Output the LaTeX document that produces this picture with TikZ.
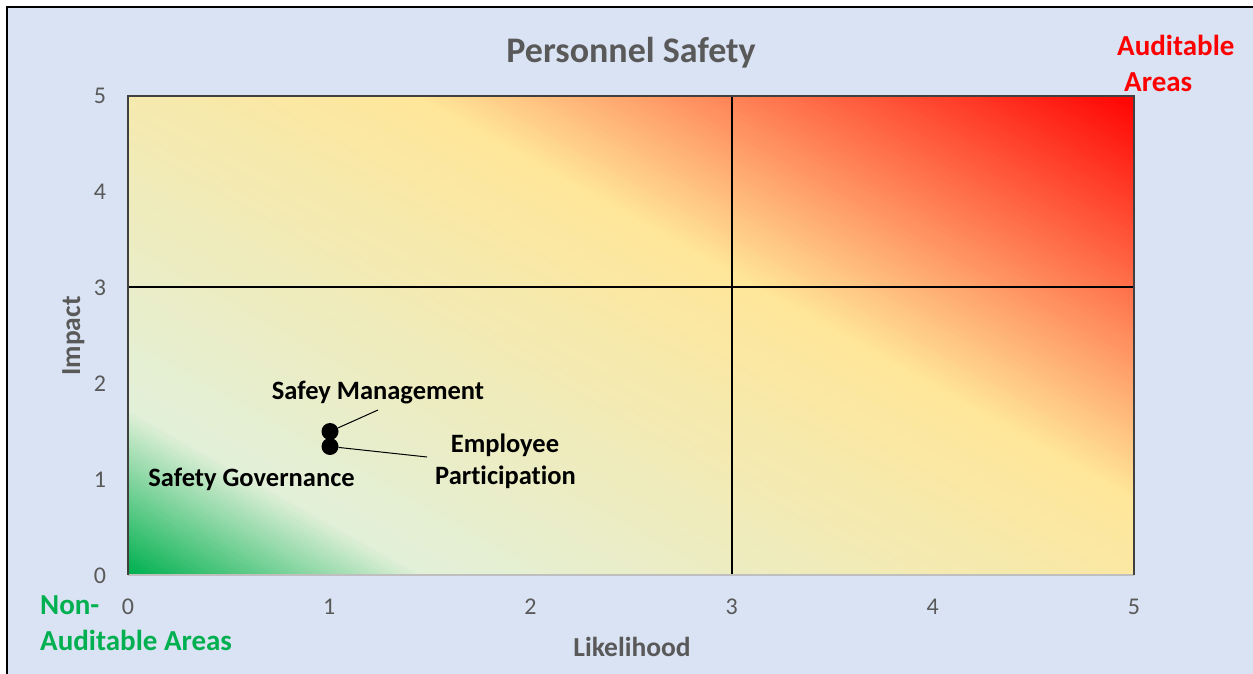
\documentclass[tikz,border=0pt]{standalone}
\usepackage{fontspec}
\setmainfont{Carlito}[Ligatures=NoCommon]
\definecolor{bgblue}{HTML}{DAE3F3}
\definecolor{axgray}{HTML}{595959}
\definecolor{dgreen}{HTML}{00B050}
\definecolor{lgreen}{HTML}{E2F0D9}
\definecolor{yel}{HTML}{FFE699}
\definecolor{hot}{HTML}{FF0000}
\definecolor{framedark}{HTML}{404040}
\definecolor{axisline}{HTML}{BFBFBF}
\begin{document}
\begin{tikzpicture}[x=1pt,y=-1pt,
  ticklab/.style={font=\fontsize{24}{28}\selectfont, text=axgray, inner sep=0, anchor=base},
  axtitle/.style={font=\fontsize{27.5}{32}\selectfont\bfseries, text=axgray, inner sep=0, anchor=base},
  datalab/.style={font=\fontsize{26.5}{31}\selectfont\bfseries, text=black, inner sep=0, anchor=base},
  zonelab/.style={font=\fontsize{29}{34}\selectfont\bfseries, inner sep=0, anchor=base west},
  dot/.style={circle, fill=black, inner sep=0, minimum size=17pt},
  leader/.style={draw=black, line width=1pt},
  gridln/.style={draw=black, line width=1.5pt}]
\useasboundingbox (0,0) rectangle (1253,674);
% background and frame
\fill[white] (0,0) rectangle (1253,674);
\fill[bgblue] (7,7) rectangle (1253,674);
\draw[black, line width=2pt] (7,674) -- (7,7) -- (1253,7);
% gradient plot area
\begin{scope}
  \clip (128,96) rectangle (1134,575);
  \begin{scope}[shift={(128,575)}, x={(0.489pt,0.873pt)}, y={(0.873pt,-0.489pt)}]
    \foreach \t in {0,2,...,910}{
      \ifnum\t<143
        \pgfmathtruncatemacro\p{\t/143*100}
        \colorlet{cc}{lgreen!\p!dgreen}
      \else\ifnum\t<556
        \pgfmathtruncatemacro\p{(\t-143)/413*100}
        \colorlet{cc}{yel!\p!lgreen}
      \else
        \pgfmathtruncatemacro\p{(\t-556)/354*100}
        \colorlet{cc}{hot!\p!yel}
      \fi\fi
      \fill[cc] (\t,-1300) -- ({\t+3},-1300) -- ({\t+3},1300) -- (\t,1300) -- cycle;
    }
  \end{scope}
\end{scope}
% gridlines
\draw[gridln] (732,96) -- (732,575);
\draw[gridln] (128,287) -- (1134,287);
% plot border
\draw[axisline, line width=2pt] (128,575) -- (1134,575);
\draw[framedark, line width=2pt] (128,575) -- (128,96) -- (1134,96) -- (1134,575);
% title
\node[font=\fontsize{36}{42}\selectfont\bfseries, text=axgray, inner sep=0, anchor=base] (title) at (631,63) {Personnel Safety};
% tick labels
\foreach \i in {0,...,5}{
  \node[ticklab] (xt\i) at ({128+201.2*\i},614) {\i};
  \node[ticklab] (yt\i) at (100,{583-95.8*\i}) {\i};
}
% axis titles
\node[axtitle] (xtitle) at (632,656.5) {Likelihood};
\node[axtitle, rotate=90] (ytitle) at (80,336) {Impact};
% zone labels
\node[zonelab, text=hot] (aud1) at (1117,56) {Auditable};
\node[zonelab, text=hot] (aud2) at (1124,92) {Areas};
\node[zonelab, text=dgreen] (non1) at (40,614) {Non-};
\node[zonelab, text=dgreen] (non2) at (40,650) {Auditable Areas};
% data points
\node[dot] (p1) at (330,431.5) {};
\node[dot] (p2) at (330,446.5) {};
\coordinate (c1) at (378,410);
\coordinate (c2) at (427,457);
\draw[leader] (p1) -- (c1);
\draw[leader] (p2) -- (c2);
% data labels
\node[datalab] (lab1) at (378,399) {Safey Management};
\node[datalab] (lab2a) at (505,452) {Employee};
\node[datalab] (lab2b) at (505.5,484) {Participation};
\node[datalab] (lab3) at (251.5,486) {Safety Governance};
\end{tikzpicture}
\end{document}
